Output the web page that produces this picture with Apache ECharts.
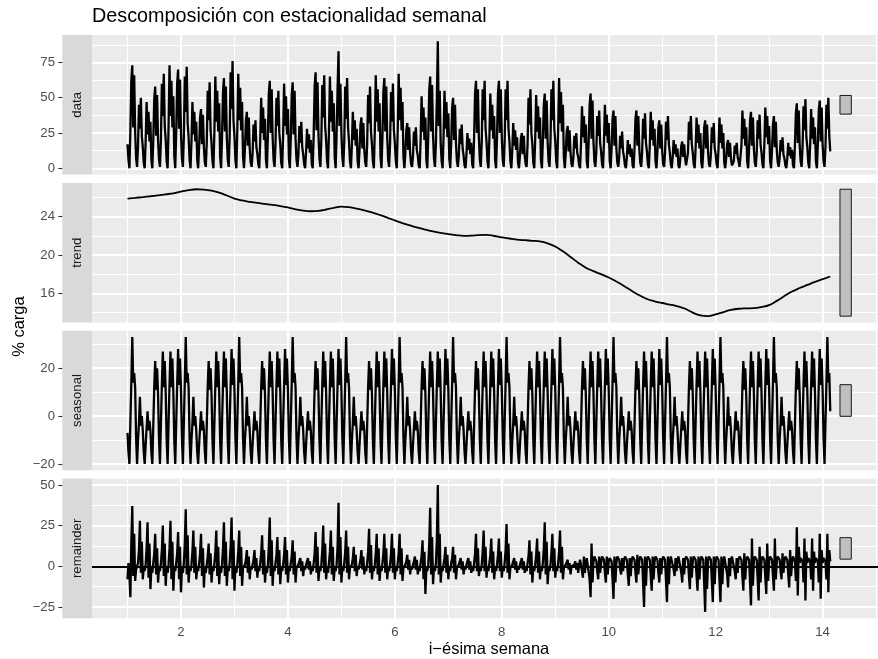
<!DOCTYPE html>
<html>
<head>
<meta charset="utf-8">
<script src="https://cdn.jsdelivr.net/npm/echarts@6/dist/echarts.min.js"></script>
<style>html,body{margin:0;padding:0;background:#fff}#c{width:878px;height:659px}</style>
</head>
<body>
<div id="c"></div>
<script>
// ---- time index: one value every 3 hours, weeks starting at 1 ----
const startWeek = 1;
const stepHours = 3;
const hoursPerWeek = 168;

const titleText = 'Descomposición con estacionalidad semanal';
const xTitle = 'i\u2212ésima semana';
const yTitle = '% carga';
const panelNames = ['data', 'trend', 'seasonal', 'remainder'];

const xTicks = [2, 4, 6, 8, 10, 12, 14];
const xMinor = [1, 3, 5, 7, 9, 11, 13, 15];
const yTicksData = [0, 25, 50, 75];
const yMinorData = [12.5, 37.5, 62.5, 87.5];
const yTicksTrend = [16, 20, 24];
const yMinorTrend = [14, 18, 22, 26];
const yTicksSeas = [-20, 0, 20];
const yMinorSeas = [-10, 10, 30];
const yTicksRem = [-25, 0, 25, 50];
const yMinorRem = [-12.5, 12.5, 37.5];

// ---- observed series (% carga), every 3 h ----
const dataVals = [
17,6,
0,26,62,73,29,66,26,7, 1,15,45,28,50,23,15,4, 0,19,47,24,40,19,33,6, 0,20,49,58,23,52,20,6, 1,20,60,37,67,30,20,5, 0,29,73,37,62,29,51,9, 0,25,60,70,28,63,25,7,
1,22,65,40,72,32,22,6, 0,19,47,24,40,19,33,6, 0,15,36,42,17,38,15,4, 1,18,55,34,61,27,18,5, 0,26,65,33,55,26,46,8, 0,22,54,64,26,58,22,6, 1,23,68,42,76,34,23,6,
0,27,67,34,57,27,47,8, 0,14,34,40,16,36,14,4, 1,10,31,19,34,15,10,3, 0,20,50,25,43,20,35,6, 0,22,53,62,25,56,22,6, 1,17,50,30,55,25,17,4, 0,24,60,30,51,24,42,7,
0,21,52,61,24,55,21,6, 1,10,30,18,33,15,10,3, 0,11,28,14,24,11,20,3, 0,24,58,68,27,61,24,7, 1,20,59,36,66,30,20,5, 0,26,65,33,55,26,46,8, 0,25,56,83,30,60,25,8,
1,19,58,35,64,29,19,5, 0,16,40,20,34,16,28,5, 0,13,31,36,14,32,13,4, 1,17,52,32,58,26,17,5, 0,26,66,33,56,26,46,8, 0,22,54,64,26,58,22,6, 1,18,54,33,60,27,18,5,
0,27,67,34,57,27,47,8, 0,11,27,32,13,29,11,3, 1,9,26,16,29,13,9,2, 0,20,51,26,43,20,36,6, 0,23,55,65,26,59,23,7, 1,18,50,90,30,55,18,5, 0,22,55,28,47,22,39,7,
0,18,43,50,20,45,18,5, 1,9,28,17,31,14,9,2, 0,10,25,13,21,10,18,3, 0,22,53,62,25,56,22,6, 1,19,56,34,62,28,19,5, 0,21,53,27,45,21,37,6, 0,22,53,62,25,56,22,6,
1,19,56,34,62,28,19,5, 0,13,32,16,27,13,22,4, 0,9,21,25,10,23,9,3, 1,17,50,31,56,25,17,4, 0,21,52,26,44,21,36,6, 0,19,45,53,21,48,19,5, 1,19,56,34,62,28,19,5,
0,26,64,32,54,26,45,8, 0,11,26,30,12,27,11,3, 1,8,23,14,25,11,8,2, 0,18,44,22,37,18,31,5, 0,19,45,53,21,48,19,5, 1,12,37,23,41,18,12,3, 0,18,45,23,38,18,32,5,
0,14,35,41,16,37,14,4, 1,8,23,14,26,12,8,2, 0,8,20,10,17,8,14,2, 0,14,35,41,16,37,14,4, 1,12,35,21,39,18,12,3, 0,16,40,20,34,16,28,5, 0,12,29,34,14,31,12,3,
1,11,33,20,37,17,11,3, 0,8,20,10,17,8,14,2, 0,7,16,19,8,17,7,2, 1,11,33,20,37,17,11,3, 0,14,36,18,31,14,25,4, 0,12,29,34,14,31,12,3, 1,10,29,18,32,14,10,3,
0,14,36,18,31,14,25,4, 0,7,17,20,8,18,7,2, 1,5,16,10,18,8,5,1, 0,16,41,21,35,16,29,5, 0,14,34,40,16,36,14,4, 1,11,34,21,38,17,11,3, 0,17,43,22,37,17,30,5,
0,13,31,37,15,33,13,4, 1,7,20,12,22,10,7,2, 0,7,18,9,15,7,13,2, 0,16,39,46,18,41,16,5, 1,15,44,27,49,22,15,4, 0,17,42,21,36,17,29,5, 0,17,41,48,19,43,17,5,
1,15,45,28,50,23,12
];

// ---- trend, one value per day ----
const trendVals = [
25.88,25.95,26.03,26.12,26.22,26.32,26.42,
26.60,26.76,26.85,26.82,26.70,26.50,26.20,
25.88,25.68,25.54,25.42,25.32,25.22,25.10,
24.95,24.76,24.62,24.56,24.60,24.74,24.92,
25.04,24.98,24.84,24.66,24.44,24.18,23.90,
23.60,23.32,23.08,22.84,22.64,22.46,22.30,
22.18,22.08,22.00,22.02,22.08,22.10,21.98,
21.84,21.72,21.60,21.54,21.48,21.42,21.22,
20.88,20.38,19.80,19.20,18.68,18.32,18.00,
17.66,17.24,16.78,16.28,15.80,15.42,15.18,
15.00,14.84,14.66,14.40,14.00,13.70,13.63,
13.82,14.06,14.28,14.40,14.44,14.46,14.58,
14.78,15.22,15.72,16.20,16.56,16.88,17.20,
17.48,17.76
];

// ---- weekly seasonal component, every 3 h ----
const seasonalVals = [
-7,-15,
-20,-3,14,33,14,18,12,-9, -20,-10,-3,8,-4,0,-6,-15, -20,-12,-5,2,-6,-2,-6,-15, -20,-4,12,23,11,20,9,-10, -20,-3,13,27,12,23,10,-10, -20,-3,13,27,12,24,10,-10, -20,-3,13,28,13,24,11,-9,
-20,-3,14,33,14,18,12,-9, -20,-10,-3,8,-4,0,-6,-15, -20,-12,-5,2,-6,-2,-6,-15, -20,-4,12,23,11,20,9,-10, -20,-3,13,27,12,23,10,-10, -20,-3,13,27,12,24,10,-10, -20,-3,13,28,13,24,11,-9,
-20,-3,14,33,14,18,12,-9, -20,-10,-3,8,-4,0,-6,-15, -20,-12,-5,2,-6,-2,-6,-15, -20,-4,12,23,11,20,9,-10, -20,-3,13,27,12,23,10,-10, -20,-3,13,27,12,24,10,-10, -20,-3,13,28,13,24,11,-9,
-20,-3,14,33,14,18,12,-9, -20,-10,-3,8,-4,0,-6,-15, -20,-12,-5,2,-6,-2,-6,-15, -20,-4,12,23,11,20,9,-10, -20,-3,13,27,12,23,10,-10, -20,-3,13,27,12,24,10,-10, -20,-3,13,28,13,24,11,-9,
-20,-3,14,33,14,18,12,-9, -20,-10,-3,8,-4,0,-6,-15, -20,-12,-5,2,-6,-2,-6,-15, -20,-4,12,23,11,20,9,-10, -20,-3,13,27,12,23,10,-10, -20,-3,13,27,12,24,10,-10, -20,-3,13,28,13,24,11,-9,
-20,-3,14,33,14,18,12,-9, -20,-10,-3,8,-4,0,-6,-15, -20,-12,-5,2,-6,-2,-6,-15, -20,-4,12,23,11,20,9,-10, -20,-3,13,27,12,23,10,-10, -20,-3,13,27,12,24,10,-10, -20,-3,13,28,13,24,11,-9,
-20,-3,14,33,14,18,12,-9, -20,-10,-3,8,-4,0,-6,-15, -20,-12,-5,2,-6,-2,-6,-15, -20,-4,12,23,11,20,9,-10, -20,-3,13,27,12,23,10,-10, -20,-3,13,27,12,24,10,-10, -20,-3,13,28,13,24,11,-9,
-20,-3,14,33,14,18,12,-9, -20,-10,-3,8,-4,0,-6,-15, -20,-12,-5,2,-6,-2,-6,-15, -20,-4,12,23,11,20,9,-10, -20,-3,13,27,12,23,10,-10, -20,-3,13,27,12,24,10,-10, -20,-3,13,28,13,24,11,-9,
-20,-3,14,33,14,18,12,-9, -20,-10,-3,8,-4,0,-6,-15, -20,-12,-5,2,-6,-2,-6,-15, -20,-4,12,23,11,20,9,-10, -20,-3,13,27,12,23,10,-10, -20,-3,13,27,12,24,10,-10, -20,-3,13,28,13,24,11,-9,
-20,-3,14,33,14,18,12,-9, -20,-10,-3,8,-4,0,-6,-15, -20,-12,-5,2,-6,-2,-6,-15, -20,-4,12,23,11,20,9,-10, -20,-3,13,27,12,23,10,-10, -20,-3,13,27,12,24,10,-10, -20,-3,13,28,13,24,11,-9,
-20,-3,14,33,14,18,12,-9, -20,-10,-3,8,-4,0,-6,-15, -20,-12,-5,2,-6,-2,-6,-15, -20,-4,12,23,11,20,9,-10, -20,-3,13,27,12,23,10,-10, -20,-3,13,27,12,24,10,-10, -20,-3,13,28,13,24,11,-9,
-20,-3,14,33,14,18,12,-9, -20,-10,-3,8,-4,0,-6,-15, -20,-12,-5,2,-6,-2,-6,-15, -20,-4,12,23,11,20,9,-10, -20,-3,13,27,12,23,10,-10, -20,-3,13,27,12,24,10,-10, -20,-3,13,28,13,24,11,-9,
-20,-3,14,33,14,18,12,-9, -20,-10,-3,8,-4,0,-6,-15, -20,-12,-5,2,-6,-2,-6,-15, -20,-4,12,23,11,20,9,-10, -20,-3,13,27,12,23,10,-10, -20,-3,13,27,12,24,10,-10, -20,-3,13,28,13,24,11,-9,
-20,-3,14,33,14,18,2
];

// ---- remainder, every 3 h ----
const remainderVals = [
-8,2,
-5,-19,14,37,-6,20,-9,-2, -3,2,10,28,-4,15,-8,-1, -3,1,11,27,-7,14,-14,-1, -4,2,8,20,-5,11,-10,-1, -3,2,10,25,-6,14,-12,0, -4,1,11,28,-8,15,-15,-1, -3,2,8,21,-8,12,-16,-1,
-4,2,14,35,-5,19,-10,0, -3,1,9,22,-4,12,-8,-1, -3,2,8,20,-6,11,-13,0, -4,1,6,14,-5,8,-10,-1, -3,2,9,22,-6,12,-11,0, -4,1,11,27,-6,15,-12,-1, -3,2,12,30,-8,16,-15,0,
-4,1,9,22,-6,12,-12,-1, -2,1,4,10,-4,6,-8,0, -2,1,4,10,-3,5,-7,0, -3,2,8,19,-5,10,-10,-1, -4,1,12,30,-6,16,-12,0, -3,2,7,18,-5,10,-11,-1, -3,1,7,18,-5,10,-10,0,
-3,2,6,16,-5,9,-10,-1, -2,1,2,5,-3,3,-6,0, -2,1,2,5,-2,3,-5,0, -3,2,8,21,-4,12,-9,-1, -3,1,10,25,-4,14,-8,0, -4,2,9,22,-5,12,-9,-1, -3,1,12,39,-5,18,-10,0,
-3,2,9,22,-4,12,-8,-1, -2,1,5,12,-3,7,-6,0, -2,1,4,10,-2,6,-5,0, -3,2,9,23,-4,13,-8,-1, -3,1,8,20,-5,11,-9,0, -3,2,8,20,-4,11,-8,-1, -3,1,8,20,-4,11,-8,0,
-3,2,8,20,-5,11,-9,-1, -2,1,3,7,-2,4,-5,0, -2,1,3,6,-2,4,-5,0, -3,2,6,16,-8,9,-17,-1, -3,1,14,36,-5,18,-11,0, -3,2,16,50,-5,20,-10,-1, -3,1,5,12,-4,7,-8,0,
-3,2,5,12,-4,7,-8,-1, -2,1,2,5,-2,3,-5,0, -2,1,2,5,-2,3,-4,0, -3,2,8,20,-3,11,-6,-1, -3,1,9,22,-3,12,-7,0, -3,2,7,17,-4,9,-8,-1, -3,1,7,17,-3,9,-7,0,
-3,2,10,26,-4,14,-8,-1, -2,1,2,5,-2,3,-4,0, -2,1,2,5,-2,3,-4,0, -3,2,6,16,-5,9,-10,-1, -3,1,7,17,-4,9,-8,0, -3,2,11,27,-5,15,-11,-1, -3,1,8,20,-3,11,-7,0,
-3,2,9,22,-4,12,-8,-1, -1,1,2,4,-2,2,-5,0, -1,1,1,3,-2,2,-4,1, 4,3,-3,-7,6,-4,2,5, 5,4,-8,-19,14,-10,3,6, 5,3,-3,-8,6,-4,2,6, 6,4,-4,-10,6,-5,3,5,
5,3,-8,-20,6,-10,2,6, 6,4,-2,-5,5,-3,3,6, 6,4,-5,-12,5,-6,3,6, 6,4,-4,-10,7,-5,3,6, 6,4,-10,-25,6,-12,3,6, 6,4,-6,-15,6,-8,3,6, 6,4,-4,-10,5,-5,3,6,
6,4,-9,-22,6,-11,3,6, 6,5,-2,-6,5,-3,4,6, 6,5,-4,-10,5,-5,4,6, 6,4,-6,-14,6,-7,3,6, 6,4,-6,-15,6,-8,3,6, 7,4,-11,-28,6,-14,3,6, 6,4,-9,-22,6,-11,3,6,
6,4,-9,-22,6,-11,3,6, 6,5,-5,-13,5,-6,4,6, 6,5,-3,-8,5,-4,4,6, 6,4,-6,-15,8,-8,3,6, 6,4,-10,-24,17,-12,3,6, 6,4,-8,-21,12,-10,3,6, 6,4,-7,-17,14,-9,3,6,
6,4,-6,-15,17,-8,3,6, 6,4,-3,-8,8,-4,3,6, 6,4,-5,-13,10,-6,3,6, 5,3,-9,24,-18,12,2,5, 5,3,-10,17,-21,9,2,5, 5,3,-8,17,-15,9,2,5, 5,3,-10,20,-20,10,2,5,
5,3,-8,20,-16,10,3
];

// ---------------- layout ----------------
const FONT = '"Liberation Sans", Arial, Helvetica, sans-serif';
const panelLeft = 92;
const stripLeft = 62.3;
const panelH = 139.6;
const panelTops = [35, 182.9, 330.7, 478.6];
const xMin = 0.336, xMax = 15.036;
const barX0 = 14.325, barX1 = 14.537;

const xAt = i => startWeek + i * stepHours / hoursPerWeek;
const toPairs = arr => arr.map((v, i) => [xAt(i), v]);
const trendPairs = trendVals.map((v, k) => [startWeek + k * 24 / hoursPerWeek, v]);

const seriesArrays = [dataVals, trendVals, seasonalVals, remainderVals];
const extents = seriesArrays.map(a => {
  const mn = Math.min(...a), mx = Math.max(...a), d = (mx - mn) * 0.05;
  return {mn, mx, lo: mn - d, hi: mx + d};
});
const barHalf = Math.min(...extents.map(e => e.mx - e.mn)) / 2;

const majors = [yTicksData, yTicksTrend, yTicksSeas, yTicksRem];
const minors = [yMinorData, yMinorTrend, yMinorSeas, yMinorRem];
const fmt = v => String(v).replace('-', '\u2212');

const grids = panelTops.map(t => ({
  left: panelLeft, right: 0, top: t, height: panelH,
  show: true, backgroundColor: '#EBEBEB', borderWidth: 0
}));

const xAxes = panelTops.map((t, i) => ({
  type: 'value', gridIndex: i, min: xMin, max: xMax,
  show: i === 3,
  axisLine: {show: false},
  splitLine: {show: false},
  axisTick: {show: true, customValues: xTicks, length: 4, lineStyle: {color: '#333333', width: 1.1}},
  axisLabel: {customValues: xTicks, margin: 7.3, fontSize: 13.2, color: '#4D4D4D', fontFamily: FONT}
}));

const yAxes = panelTops.map((t, i) => ({
  type: 'value', gridIndex: i, min: extents[i].lo, max: extents[i].hi,
  offset: panelLeft - stripLeft,
  axisLine: {show: false},
  splitLine: {show: false},
  axisTick: {show: true, customValues: majors[i], length: 4, lineStyle: {color: '#333333', width: 1.1}},
  axisLabel: {customValues: majors[i], margin: 7.3, fontSize: 13.2, color: '#4D4D4D', fontFamily: FONT, formatter: fmt}
}));

const white = w => ({width: w, type: 'solid', color: '#FFFFFF'});
const gridLineSeries = panelTops.map((t, i) => ({
  type: 'line', xAxisIndex: i, yAxisIndex: i, data: [], silent: true, z: 1,
  markLine: {
    z: 1, silent: true, symbol: ['none', 'none'], label: {show: false}, emphasis: {disabled: true},
    lineStyle: {type: 'solid', color: '#FFFFFF'},
    data: [
      ...minors[i].map(v => ({yAxis: v, lineStyle: white(1.07)})),
      ...xMinor.map(v => ({xAxis: v, lineStyle: white(1.07)})),
      ...majors[i].map(v => ({yAxis: v, lineStyle: white(2.1)})),
      ...xTicks.map(v => ({xAxis: v, lineStyle: white(2.1)}))
    ]
  }
}));

const denseLine = {color: '#000000', width: 2.3};
const mainSeries = [
  {type: 'line', xAxisIndex: 0, yAxisIndex: 0, data: toPairs(dataVals), showSymbol: false, symbol: 'none', lineStyle: denseLine, z: 3},
  {type: 'line', xAxisIndex: 1, yAxisIndex: 1, data: trendPairs, showSymbol: false, symbol: 'none', smooth: 0.4, lineStyle: {color: '#000000', width: 1.8}, z: 3},
  {type: 'line', xAxisIndex: 2, yAxisIndex: 2, data: toPairs(seasonalVals), showSymbol: false, symbol: 'none', lineStyle: denseLine, z: 3},
  {type: 'line', xAxisIndex: 3, yAxisIndex: 3, data: toPairs(remainderVals), showSymbol: false, symbol: 'none', lineStyle: denseLine, z: 3,
    markLine: {z: 4, silent: true, symbol: ['none', 'none'], label: {show: false}, emphasis: {disabled: true},
      data: [{yAxis: 0, lineStyle: {color: '#000000', width: 2, type: 'solid'}}]}}
];

const barSeries = panelTops.map((t, i) => {
  const mid = (extents[i].mn + extents[i].mx) / 2;
  return {
    type: 'custom', xAxisIndex: i, yAxisIndex: i, z: 4, silent: true,
    encode: {x: [0, 1], y: [2, 3]},
    data: [[barX0, barX1, mid - barHalf, mid + barHalf]],
    renderItem: (params, api) => {
      const p0 = api.coord([api.value(0), api.value(3)]);
      const p1 = api.coord([api.value(1), api.value(2)]);
      return {type: 'rect', shape: {x: p0[0], y: p0[1], width: p1[0] - p0[0], height: p1[1] - p0[1]},
        style: {fill: '#BFBFBF', stroke: '#1A1A1A', lineWidth: 1}};
    }
  };
});

const graphics = [
  ...panelTops.map(t => ({type: 'rect', silent: true, z: 0,
    shape: {x: stripLeft, y: t, width: panelLeft - stripLeft, height: panelH}, style: {fill: '#D9D9D9'}})),
  ...panelTops.map((t, i) => ({type: 'text', silent: true, x: (stripLeft + panelLeft) / 2, y: t + panelH / 2,
    rotation: Math.PI / 2,
    style: {text: panelNames[i], fill: '#1A1A1A', font: '13.2px ' + FONT, align: 'center', verticalAlign: 'middle'}})),
  {type: 'text', silent: true, x: panelLeft, y: 16.7,
    style: {text: titleText, fill: '#000000', font: '19.8px ' + FONT, align: 'left', verticalAlign: 'middle'}},
  {type: 'text', silent: true, x: 489, y: 649,
    style: {text: xTitle, fill: '#000000', font: '16.5px ' + FONT, align: 'center', verticalAlign: 'middle'}},
  {type: 'text', silent: true, x: 19, y: (panelTops[0] + panelTops[3] + panelH) / 2, rotation: Math.PI / 2,
    style: {text: yTitle, fill: '#000000', font: '16.5px ' + FONT, align: 'center', verticalAlign: 'middle'}}
];

const chart = echarts.init(document.getElementById('c'), null, {renderer: 'canvas'});
chart.setOption({
  animation: false,
  backgroundColor: '#FFFFFF',
  textStyle: {fontFamily: FONT},
  grid: grids,
  xAxis: xAxes,
  yAxis: yAxes,
  series: [...gridLineSeries, ...mainSeries, ...barSeries],
  graphic: graphics
});
</script>
</body>
</html>
